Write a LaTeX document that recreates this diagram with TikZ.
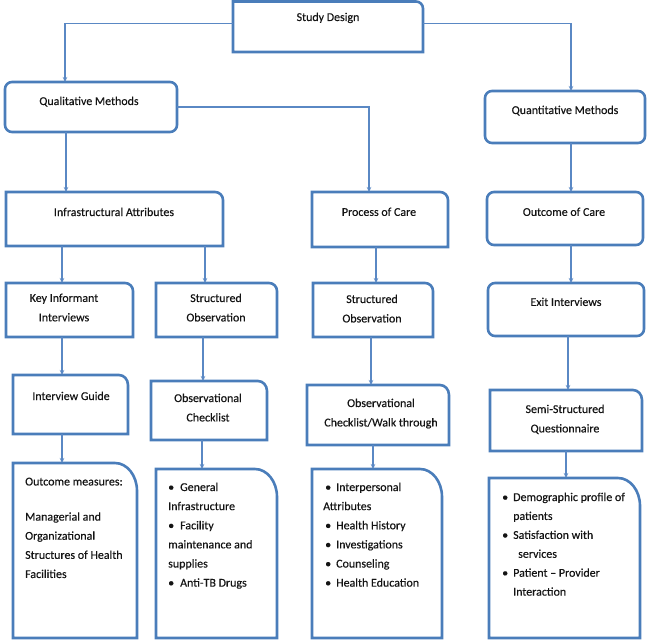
\documentclass[tikz,border=0pt]{standalone}
\usepackage{fontspec}
\setmainfont{Carlito}[UprightFeatures={FakeBold=0.35}]
\usetikzlibrary{arrows.meta}
\definecolor{bord}{HTML}{4A7DBA}
\definecolor{conncol}{HTML}{5A88C4}
\definecolor{txt}{HTML}{141414}
% outline with only the top-right corner rounded
\newcommand\trshape[3]{\draw[boxline] (#1.south west) -- (#1.north west) -- ([xshift=-#2]#1.north east) arc[start angle=90,end angle=0,x radius=#2,y radius=#3] -- (#1.south east) -- cycle;}
\newcommand\bul[1]{\makebox[#1][l]{\textbullet}}
\begin{document}
\begin{tikzpicture}[x=1bp,y=-1bp,
  box/.style={rectangle, draw=none, inner sep=0, outer sep=0},
  rbox/.style={rectangle, draw=bord, line width=2.6bp, rounded corners=7bp, inner sep=0, outer sep=0},
  boxline/.style={draw=bord, line width=2.6bp},
  conn/.style={draw=conncol, line width=1.2bp, -{Stealth[length=5bp,width=4.5bp]}},
  lbl/.style={inner sep=0, anchor=north, align=center, font=\fontsize{12}{19.5}\selectfont, text=txt},
  blist/.style={inner sep=0, anchor=north west, align=left, font=\fontsize{12}{19.2}\selectfont, text=txt}]
\useasboundingbox (0,0) rectangle (648,644);

% ---------- boxes ----------
\node[box, minimum width=190bp, minimum height=50.5bp] (sd) at (328,26.75) {};
\node[rbox, minimum width=172bp, minimum height=50bp] (qual) at (91,107) {};
\node[rbox, minimum width=160bp, minimum height=52bp] (quant) at (565,117) {};
\node[box, minimum width=217bp, minimum height=54bp] (infra) at (114.5,219) {};
\node[box, minimum width=136bp, minimum height=55bp] (proc) at (380,219.5) {};
\node[rbox, minimum width=156bp, minimum height=53bp] (outc) at (565,218.5) {};
\node[box, minimum width=127bp, minimum height=54bp] (kii) at (69.5,310) {};
\node[box, minimum width=121bp, minimum height=54bp] (so1) at (216.5,310) {};
\node[box, minimum width=120bp, minimum height=54bp] (so2) at (373,310) {};
\node[rbox, minimum width=156bp, minimum height=53bp] (exit) at (566,309.5) {};
\node[box, minimum width=115bp, minimum height=59bp] (ig) at (70.5,404.5) {};
\node[box, minimum width=116bp, minimum height=59bp] (oc) at (209,410.5) {};
\node[box, minimum width=142bp, minimum height=60bp] (ocw) at (378,415) {};
\node[box, minimum width=152bp, minimum height=61bp] (semi) at (566,420.5) {};
\node[box, minimum width=124bp, minimum height=175bp] (om) at (75,550.5) {};
\node[box, minimum width=121bp, minimum height=169bp] (gi) at (216.5,553.5) {};
\node[box, minimum width=130bp, minimum height=169bp] (ip) at (377,553.5) {};
\node[box, minimum width=151bp, minimum height=160bp] (dp) at (564.5,558) {};

\trshape{sd}{7bp}{7bp}
\trshape{infra}{8bp}{8bp}
\trshape{proc}{8bp}{8bp}
\trshape{kii}{8bp}{8bp}
\trshape{so1}{8bp}{8bp}
\trshape{so2}{8bp}{8bp}
\trshape{ig}{9bp}{10bp}
\trshape{oc}{9bp}{10bp}
\trshape{ocw}{9bp}{10bp}
\trshape{semi}{9bp}{10bp}
\trshape{om}{22bp}{28bp}
\trshape{gi}{22bp}{28bp}
\trshape{ip}{22bp}{28bp}
\trshape{dp}{22bp}{28bp}

% ---------- texts ----------
\node[lbl] (tsd) at (328,12.5) {Study Design};
\node[lbl] (tqual) at (89,96.5) {Qualitative Methods};
\node[lbl] (tquant) at (565,105.5) {Quantitative Methods};
\node[lbl] (tinfra) at (114,207.5) {Infrastructural Attributes};
\node[lbl] (tproc) at (379,207.5) {Process of Care};
\node[lbl] (toutc) at (564,207.5) {Outcome of Care};
\node[lbl] (tkii) at (64,293.5) {Key Informant\\Interviews};
\node[lbl] (tso1) at (216,293.5) {Structured\\Observation};
\node[lbl] (tso2) at (372,294.5) {Structured\\Observation};
\node[lbl] (texit) at (566,297.5) {Exit Interviews};
\node[lbl] (tig) at (71,391.5) {Interview Guide};
\node[lbl] (toc) at (208,393.5) {Observational\\Checklist};
\node[lbl] (tocw) at (381,398.5) {Observational\\Checklist/Walk through};
\node[lbl] (tsemi) at (565,404.5) {Semi-Structured\\Questionnaire};

\node[blist] (tom) at (25,477.5) {Outcome measures:\\[16bp]Managerial and\\Organizational\\Structures of Health\\Facilities};
\node[blist] (tgi) at (168,482.5) {\bul{12bp}General\\Infrastructure\\\bul{12bp}Facility\\maintenance and\\supplies\\\bul{12bp}Anti-TB Drugs};
\node[blist] (tip) at (323,482.5) {\hspace*{2bp}\bul{11bp}Interpersonal\\Attributes\\\hspace*{2bp}\bul{11bp}Health History\\\hspace*{2bp}\bul{11bp}Investigations\\\hspace*{2bp}\bul{11bp}Counseling\\\hspace*{2bp}\bul{11bp}Health Education};
\node[blist, font=\fontsize{12}{19}\selectfont] (tdp) at (502,492.5) {\bul{11bp}Demographic profile of\\\hspace*{11bp}patients\\\bul{11bp}Satisfaction with\\\hspace*{16bp}services\\\bul{11bp}Patient -- Provider\\\hspace*{11bp}Interaction};

% ---------- connectors ----------
\draw[conn] ([yshift=3bp]sd.west) -| ([xshift=-26bp]qual.north);
\draw[conn] ([yshift=3bp]sd.east) -| ([xshift=6bp]quant.north);
\draw[conn] (qual.east) -| ([xshift=-11bp]proc.north);
\draw[conn] ([xshift=-25bp]qual.south) -- ([xshift=-25bp]qual.south |- infra.north);
\draw[conn] ([xshift=6bp]quant.south) -- ([xshift=6bp]quant.south |- outc.north);
\draw[conn] ([xshift=-52.5bp]infra.south) -- ([xshift=-52.5bp]infra.south |- kii.north);
\draw[conn] ([xshift=90.5bp]infra.south) -- ([xshift=90.5bp]infra.south |- so1.north);
\draw[conn] ([xshift=-4bp]proc.south) -- ([xshift=-4bp]proc.south |- so2.north);
\draw[conn] ([xshift=6bp]outc.south) -- ([xshift=6bp]outc.south |- exit.north);
\draw[conn] ([xshift=-7.5bp]kii.south) -- ([xshift=-7.5bp]kii.south |- ig.north);
\draw[conn] ([xshift=-13.5bp]so1.south) -- ([xshift=-13.5bp]so1.south |- oc.north);
\draw[conn] ([xshift=-2bp]so2.south) -- ([xshift=-2bp]so2.south |- ocw.north);
\draw[conn] ([xshift=2bp]exit.south) -- ([xshift=2bp]exit.south |- semi.north);
\draw[conn] ([xshift=-8.5bp]ig.south) -- ([xshift=-8.5bp]ig.south |- om.north);
\draw[conn] ([xshift=-7bp]oc.south) -- ([xshift=-7bp]oc.south |- gi.north);
\draw[conn] ([xshift=-5bp]ocw.south) -- ([xshift=-5bp]ocw.south |- ip.north);
\draw[conn] ([xshift=0bp]semi.south) -- ([xshift=0bp]semi.south |- dp.north);
\end{tikzpicture}
\end{document}
